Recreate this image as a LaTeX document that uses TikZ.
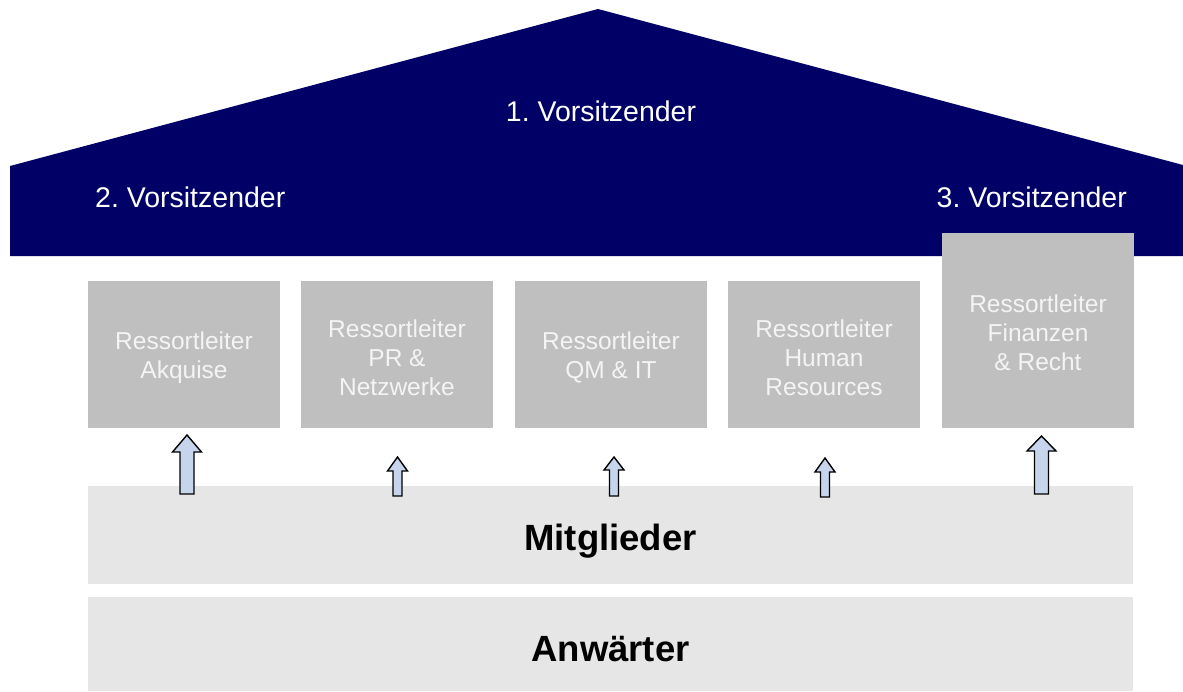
\documentclass[tikz,border=0pt]{standalone}
\usepackage{fontspec}
\setmainfont{Liberation Sans}
\definecolor{navy}{HTML}{000066}
\definecolor{boxgray}{HTML}{BFBFBF}
\definecolor{bandgray}{HTML}{E6E6E6}
\definecolor{arrfill}{HTML}{C6D4EC}
\definecolor{boxtext}{HTML}{F4F4F4}
\newcommand{\myuparrow}[6]{%
  \filldraw[arrstyle] (#1-#6,#4) -- (#1-#6,#3) -- (#1-#5,#3) -- (#1,#2) -- (#1+#5,#3) -- (#1+#6,#3) -- (#1+#6,#4) -- cycle;}
\begin{document}
\begin{tikzpicture}[x=1pt,y=-1pt,
  ressort/.style={fill=boxgray,draw=none,text=boxtext,align=center,inner sep=0pt,
    font=\fontsize{24.5}{29}\selectfont},
  band/.style={fill=bandgray,draw=none,inner sep=0pt},
  bandtext/.style={inner sep=0pt,font=\fontsize{36.5}{40}\selectfont\bfseries},
  roof/.style={text=white,inner sep=0pt,font=\fontsize{28.5}{32}\selectfont},
  arrstyle/.style={fill=arrfill,draw=black,line width=1.4pt,line join=miter}]
\useasboundingbox (0,0) rectangle (1183,691);
% roof
\fill[navy] (10,166) -- (598,9) -- (1183,165) -- (1183,256) -- (10,256) -- cycle;
\node[roof] (v1) at (601,111) {1.\ Vorsitzender};
\node[roof,anchor=west] (v2) at (95,197) {2.\ Vorsitzender};
\node[roof,anchor=east] (v3) at (1127,197) {3.\ Vorsitzender};
% ressort boxes
\node[ressort,minimum width=192pt,minimum height=147pt] (r1) at (184,354.5) {};
\node[ressort,minimum width=192pt,minimum height=147pt] (r2) at (397,354.5) {};
\node[ressort,minimum width=192pt,minimum height=147pt] (r3) at (611,354.5) {};
\node[ressort,minimum width=192pt,minimum height=147pt] (r4) at (824,354.5) {};
\node[ressort,minimum width=192pt,minimum height=195pt] (r5) at (1038,330.5) {};
\node[ressort,fill=none] (t1) at ([yshift=-3pt]r1.center) {Ressortleiter\\Akquise};
\node[ressort,fill=none] (t2) at ([yshift=-3pt]r2.center) {Ressortleiter\\PR \&\\Netzwerke};
\node[ressort,fill=none] (t3) at ([yshift=-3pt]r3.center) {Ressortleiter\\QM \& IT};
\node[ressort,fill=none] (t4) at ([yshift=-3pt]r4.center) {Ressortleiter\\Human\\Resources};
\node[ressort,fill=none] (t5) at ([yshift=-2pt]r5.center) {Ressortleiter\\Finanzen\\\& Recht};
% bands
\node[band,minimum width=1045pt,minimum height=98pt] (mit) at (610.5,535) {};
\node[band,minimum width=1045pt,minimum height=94pt] (anw) at (610.5,644) {};
\node[bandtext] (mitt) at (610.5,541) {Mitglieder};
\node[bandtext] (anwt) at (610.5,649) {Anwärter};
% arrows
\myuparrow{187}{435}{452}{494}{14.5}{7}
\myuparrow{397.5}{457}{471}{496}{10}{4.5}
\myuparrow{614}{457}{470}{496}{10}{4.5}
\myuparrow{825}{458}{472}{497}{10}{4.5}
\myuparrow{1041.5}{436}{451}{494}{14.5}{7}
\end{tikzpicture}
\end{document}
